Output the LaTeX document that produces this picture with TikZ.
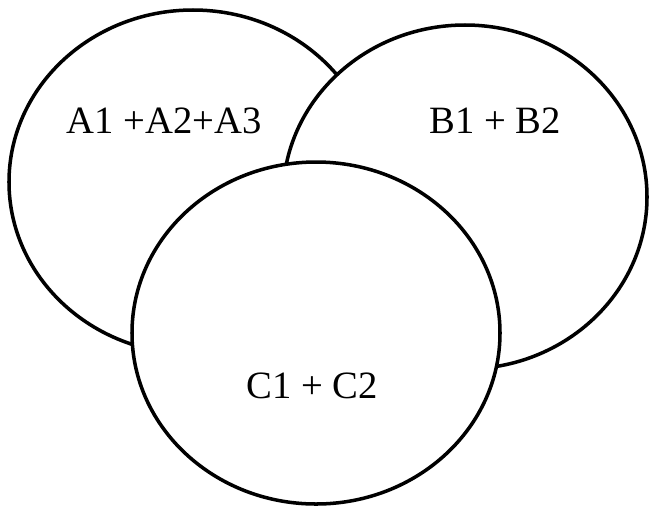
\documentclass[tikz,border=0pt]{standalone}
\usepackage{fontspec}
\setmainfont{Liberation Serif}
\usetikzlibrary{shapes.geometric}
\definecolor{vnink}{HTML}{000000}
\tikzset{
  setov/.style={ellipse, draw=vnink, line width=2pt, fill=white, inner sep=0pt},
  setlbl/.style={anchor=base, font=\fontsize{22}{26}\selectfont, inner sep=0pt},
}

\begin{document}
\begin{tikzpicture}
      \useasboundingbox (0,0) rectangle (13.02,-10.12);
      \node[setov, minimum width=7.36cm, minimum height=6.88cm] (setA) at (3.86,-3.64) {};
      \node[setov, minimum width=7.28cm, minimum height=6.88cm] (setB) at (9.3,-3.94) {};
      \node[setov, minimum width=7.36cm, minimum height=6.84cm] (setC) at (6.32,-6.66) {};
      \node[setlbl] (txtA) at (3.28,-2.66) {A1 +A2+A3};
      \node[setlbl] (txtB) at (9.9,-2.66) {B1 + B2};
      \node[setlbl] (txtC) at (6.24,-7.96) {C1 + C2};
    \end{tikzpicture}
\end{document}
